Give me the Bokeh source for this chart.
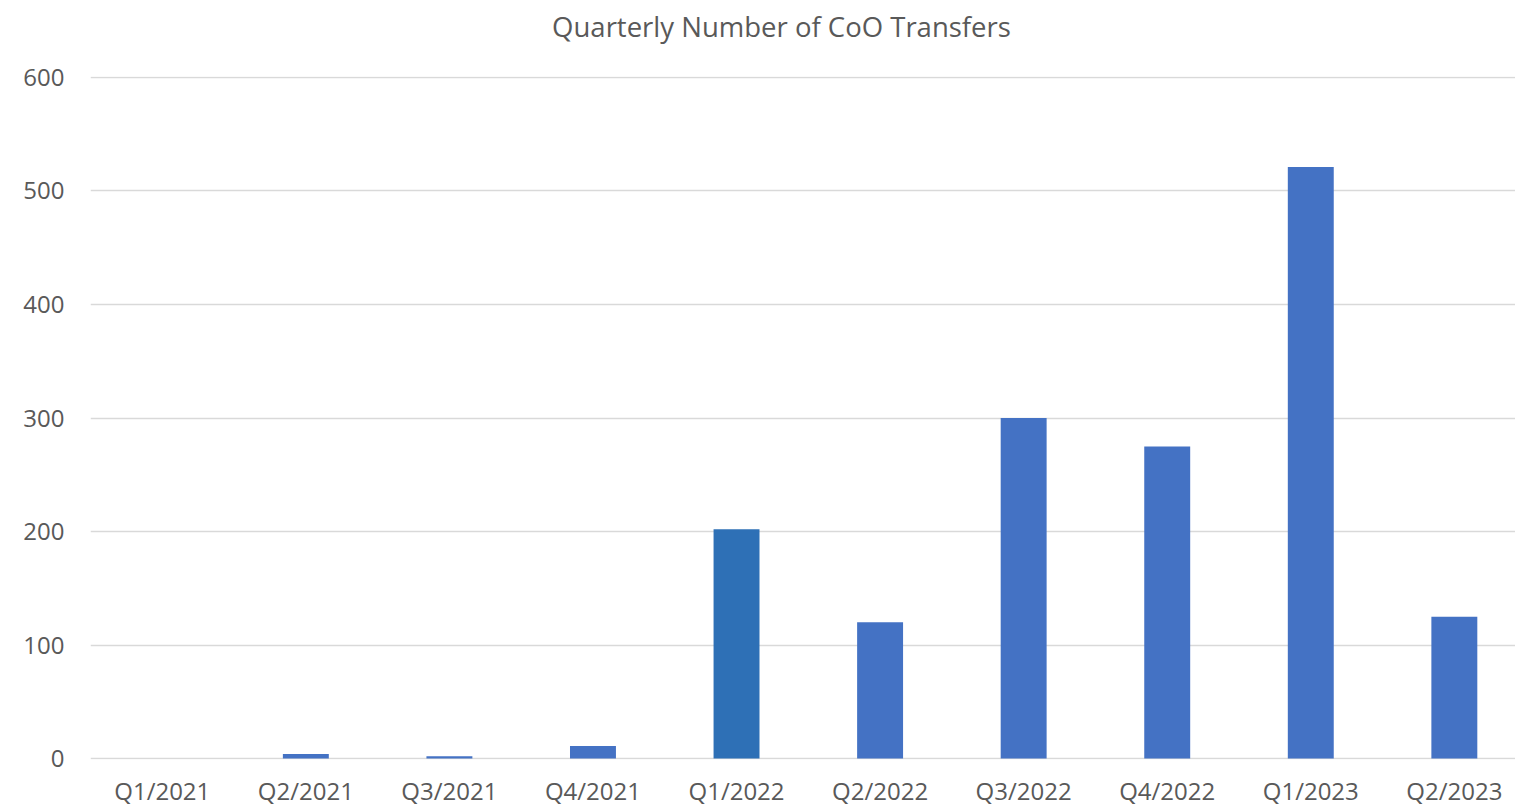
from bokeh.plotting import figure
from bokeh.models import Range1d, FixedTicker, ColumnDataSource, Div
from bokeh.layouts import column
from bokeh.embed import file_html
from bokeh.resources import INLINE

categories = ["Q1/2021", "Q2/2021", "Q3/2021", "Q4/2021", "Q1/2022",
              "Q2/2022", "Q3/2022", "Q4/2022", "Q1/2023", "Q2/2023"]
transfers = [0, 4, 2, 11, 202, 120, 300, 275, 521, 125]
bar_colors = ["#4472C4", "#4472C4", "#4472C4", "#4472C4", "#2E70B6",
              "#4472C4", "#4472C4", "#4472C4", "#4472C4", "#4472C4"]
y_ticks = [0, 100, 200, 300, 400, 500, 600]
title_text = "Quarterly Number of CoO Transfers"

xpos = [i + 0.5 for i in range(len(categories))]
src = ColumnDataSource(dict(x=xpos, top=transfers, color=bar_colors, cat=categories))

FONT = "Open Sans"
GREY = "#595959"

title_div = Div(
    text=('<div style="width:1515px; height:54px; line-height:54px; '
          'text-align:center; padding-left:48px; box-sizing:border-box; '
          f'font-family:\'{FONT}\'; font-size:27.5px; color:{GREY}; '
          f'white-space:nowrap;">{title_text}</div>'),
    width=1515, height=54, margin=0)

p = figure(width=1515, height=755, output_backend="svg", toolbar_location=None,
           x_range=Range1d(0, 9.926), y_range=Range1d(-0.8, 600.8),
           min_border_left=90, min_border_right=0, min_border_top=22,
           min_border_bottom=50, margin=0)

p.vbar(x="x", top="top", width=0.32, source=src, fill_color="color",
       line_color=None)

p.xaxis.ticker = FixedTicker(ticks=xpos)
p.xaxis.major_label_overrides = {x: c for x, c in zip(xpos, categories)}
p.yaxis.ticker = FixedTicker(ticks=y_ticks)

for ax in (p.xaxis, p.yaxis):
    ax.axis_line_color = None
    ax.major_tick_line_color = None
    ax.minor_tick_line_color = None
    ax.major_label_text_font = FONT
    ax.major_label_text_font_size = "24px"
    ax.major_label_text_color = GREY
p.xaxis.major_label_standoff = 8
p.yaxis.major_label_standoff = 20

p.xgrid.grid_line_color = None
p.ygrid.grid_line_color = "#D9D9D9"
p.ygrid.grid_line_width = 1.5
p.outline_line_color = None

layout = column(title_div, p, spacing=0, margin=0)

open("out.html", "w").write(file_html(layout, INLINE))
